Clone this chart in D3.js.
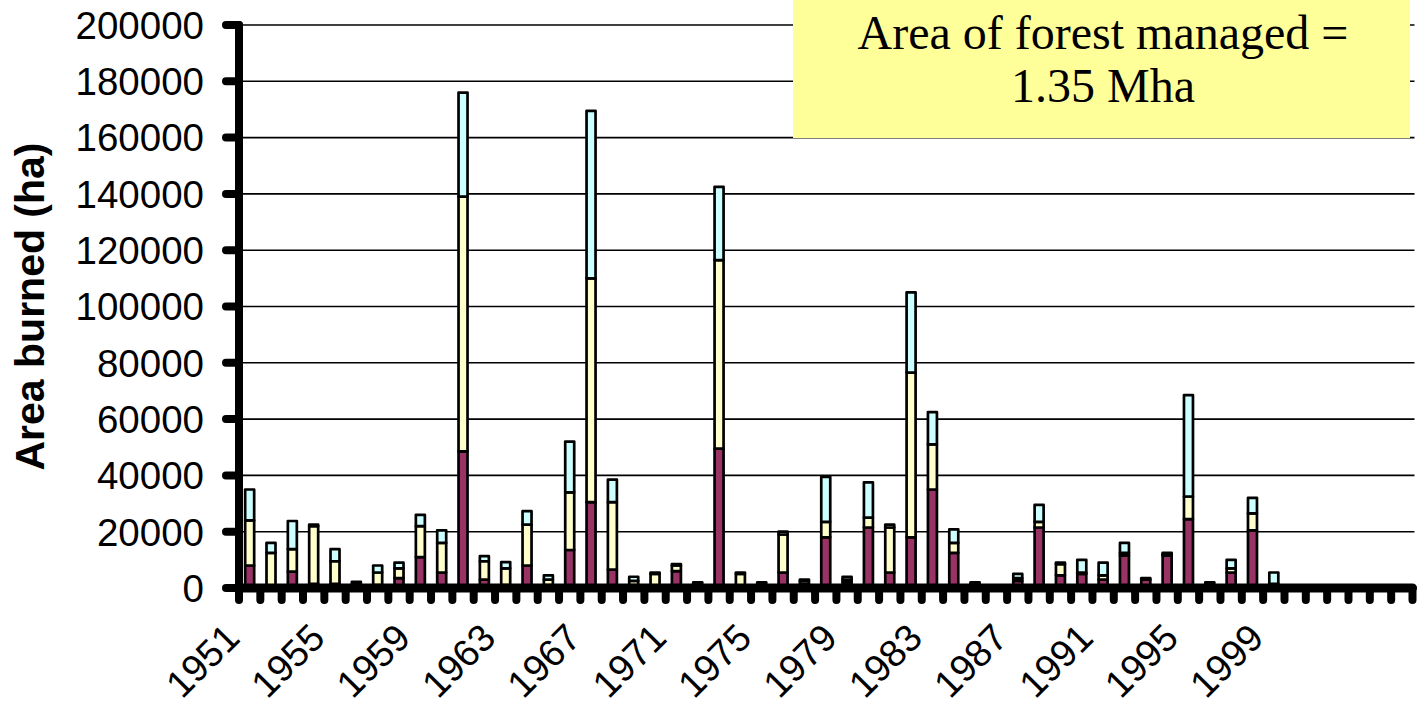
<!DOCTYPE html>
<html>
<head>
<meta charset="utf-8">
<script src="https://cdnjs.cloudflare.com/ajax/libs/d3/7.8.5/d3.min.js"></script>
<style>
  html, body { margin: 0; padding: 0; background: #ffffff; }
  svg { display: block; }
</style>
</head>
<body>
<svg id="chart" width="1421" height="715"></svg>
<script>
// Category slots along the x axis (the last six are left empty)
const years = [
  "1951","1952","1953","1954","1955","1956","1957","1958","1959","1960",
  "1961","1962","1963","1964","1965","1966","1967","1968","1969","1970",
  "1971","1972","1973","1974","1975","1976","1977","1978","1979","1980",
  "1981","1982","1983","1984","1985","1986","1987","1988","1989","1990",
  "1991","1992","1993","1994","1995","1996","1997","1998","1999","2000",
  "2001","2002","2003","2004","2005"
];

// Labels printed under the axis
const tickYears = ["1951","1955","1959","1963","1967","1971","1975","1979","1983","1987","1991","1995","1999"];

// Area burned (ha) per year, 1951–1999, three stacked components
const seriesBottom = [
  8000, 500, 5800, 1500, 1500, 1200, 1000, 3500, 11000, 5500,
  48500, 3000, 1000, 8000, 1000, 13500, 30500, 6500, 1000, 500,
  6000, 1000, 49500, 500, 1000, 5500, 1500, 18000, 2000, 21500,
  5500, 18000, 35000, 12500, 1500, 500, 2500, 21500, 4500, 5000,
  3000, 11500, 3000, 11500, 24500, 1000, 5500, 20500, 1000
];
const seriesMiddle = [
  16000, 12000, 8000, 20500, 8000, 1000, 4500, 3500, 11000, 10500,
  90500, 6500, 6000, 14500, 2000, 20500, 79500, 24000, 1500, 4500,
  2000, 1000, 67000, 4500, 1000, 13500, 1000, 5500, 1000, 3500,
  16000, 58500, 16000, 3500, 500, 0, 1000, 2000, 4000, 500,
  1500, 1000, 500, 500, 8000, 1000, 1500, 6000, 500
];
const seriesTop = [
  11000, 3500, 10000, 500, 4300, 0, 2500, 2000, 4000, 4500,
  37000, 1800, 2200, 4800, 1500, 18000, 59500, 8000, 1500, 500,
  500, 0, 26000, 500, 0, 1000, 500, 16000, 1000, 12500,
  1000, 28500, 11500, 4800, 0, 0, 1500, 6000, 500, 4500,
  4500, 3500, 0, 500, 36000, 0, 3000, 5500, 4000
];

const seriesKeys = ["bottom", "middle", "top"];
const seriesColors = ["#993366", "#FFFFCC", "#CCFFFF"];
const yTicks = [0, 20000, 40000, 60000, 80000, 100000, 120000, 140000, 160000, 180000, 200000];

const noteLines = ["Area of forest managed =", "1.35 Mha"];

// Table for the stack layout
const rows = seriesBottom.map((v, i) => ({
  year: years[i], bottom: v, middle: seriesMiddle[i], top: seriesTop[i]
}));

const svg = d3.select("#chart");

const plot = { left: 239, right: 1412.5, top: 25, bottom: 588 };

const x = d3.scaleBand().domain(years).range([plot.left, plot.right]).paddingInner(0).paddingOuter(0);
const y = d3.scaleLinear().domain([0, 200000]).range([plot.bottom, plot.top]);

// Note box
const box = svg.append("g");
box.append("rect")
  .attr("x", 793).attr("y", 0).attr("width", 617).attr("height", 138)
  .attr("fill", "#FFFF99");

// Horizontal gridlines
svg.append("g").selectAll("line")
  .data(yTicks.filter(d => d > 0))
  .join("line")
  .attr("x1", plot.left + 4).attr("x2", plot.right + 2)
  .attr("y1", d => y(d)).attr("y2", d => y(d))
  .attr("stroke", "#000").attr("stroke-width", 1.6);

// Stacked bars
const stack = d3.stack().keys(seriesKeys);
const layers = stack(rows);
const barW = 9;

svg.append("g").selectAll("g")
  .data(layers)
  .join("g")
  .attr("fill", (d, i) => seriesColors[i])
  .selectAll("rect")
  .data(d => d.filter(s => s[1] - s[0] > 0))
  .join("rect")
  .attr("x", d => x(d.data.year) + x.bandwidth() / 2 - barW / 2)
  .attr("width", barW)
  .attr("y", d => y(d[1]))
  .attr("height", d => y(d[0]) - y(d[1]))
  .attr("stroke", "#000")
  .attr("stroke-width", 2.7)
  .attr("stroke-linejoin", "round");

// Note text drawn over the box (and over gridlines)
box.raise();
box.selectAll("text")
  .data(noteLines)
  .join("text")
  .attr("x", 1103)
  .attr("y", (d, i) => 49 + i * 53)
  .attr("text-anchor", "middle")
  .attr("font-family", "'Liberation Serif', 'Times New Roman', serif")
  .attr("font-size", 48)
  .attr("fill", "#000")
  .text(d => d);

// X axis: thick baseline with rounded ticks at the category boundaries
const xAxis = svg.append("g");
const boundaries = years.map(d => x(d)).concat([x(years[years.length - 1]) + x.bandwidth()]);
xAxis.selectAll("line.tick")
  .data(boundaries)
  .join("line")
  .attr("class", "tick")
  .attr("x1", d => d).attr("x2", d => d)
  .attr("y1", plot.bottom).attr("y2", plot.bottom + 12)
  .attr("stroke", "#000").attr("stroke-width", 8).attr("stroke-linecap", "round");
xAxis.append("line")
  .attr("x1", plot.left).attr("x2", plot.right)
  .attr("y1", plot.bottom).attr("y2", plot.bottom)
  .attr("stroke", "#000").attr("stroke-width", 9).attr("stroke-linecap", "round");

xAxis.selectAll("text")
  .data(tickYears)
  .join("text")
  .attr("transform", d => `translate(${x(d) + x.bandwidth() / 2 - 8},${640}) rotate(-45)`)
  .attr("text-anchor", "end")
  .attr("font-family", "'Liberation Sans', Arial, sans-serif")
  .attr("font-size", 38)
  .attr("fill", "#000")
  .text(d => d);

// Y axis: thick spine, rounded ticks, numeric labels
const yAxis = svg.append("g");
yAxis.selectAll("line.tick")
  .data(yTicks)
  .join("line")
  .attr("class", "tick")
  .attr("x1", plot.left).attr("x2", plot.left - 13)
  .attr("y1", d => y(d)).attr("y2", d => y(d))
  .attr("stroke", "#000").attr("stroke-width", 8).attr("stroke-linecap", "round");
yAxis.append("line")
  .attr("x1", plot.left).attr("x2", plot.left)
  .attr("y1", plot.top).attr("y2", plot.bottom)
  .attr("stroke", "#000").attr("stroke-width", 8).attr("stroke-linecap", "round");

yAxis.selectAll("text")
  .data(yTicks)
  .join("text")
  .attr("x", 204)
  .attr("y", d => y(d))
  .attr("dy", "0.36em")
  .attr("text-anchor", "end")
  .attr("font-family", "'Liberation Sans', Arial, sans-serif")
  .attr("font-size", 38.5)
  .attr("fill", "#000")
  .text(d => d);

// Y axis title
svg.append("text")
  .attr("transform", `translate(44,${(plot.top + plot.bottom) / 2}) rotate(-90)`)
  .attr("text-anchor", "middle")
  .attr("font-family", "'Liberation Sans', Arial, sans-serif")
  .attr("font-weight", "bold")
  .attr("font-size", 41)
  .attr("fill", "#000")
  .text("Area burned (ha)");
</script>
</body>
</html>
